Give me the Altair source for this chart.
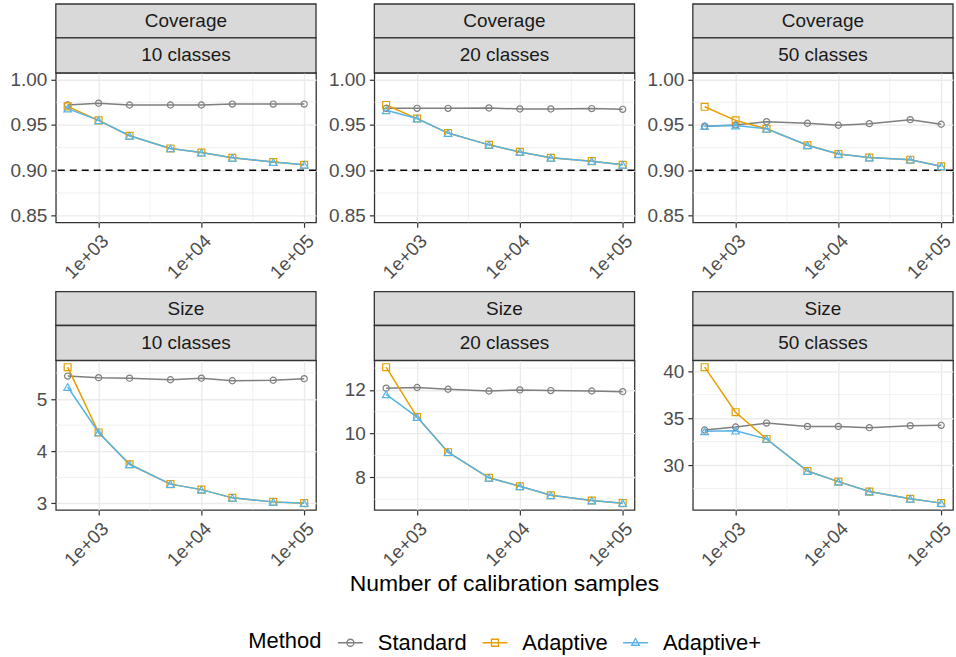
import math

import altair as alt
import pandas as pd

# ---------------------------------------------------------------------------
# Data
# ---------------------------------------------------------------------------
N_SAMPLES = [500, 1000, 2000, 5000, 10000, 20000, 50000, 100000]
METHODS = ["Standard", "Adaptive", "Adaptive+"]
METHOD_COLORS = ["#7F7F7F", "#E69F00", "#56B4E9"]
METHOD_SHAPES = ["circle", "square", "triangle-up"]
METHOD_SIZES = [38, 48, 58]
X_TITLE = "Number of calibration samples"
TARGET_COVERAGE = [0.9]

# Coverage
COV10_STANDARD = [0.972, 0.974, 0.972, 0.972, 0.972, 0.973, 0.973, 0.973]
COV10_ADAPTIVE = [0.9705, 0.955, 0.938, 0.924, 0.9195, 0.9137, 0.909, 0.906]
COV10_ADAPTIVE_PLUS = [0.968, 0.955, 0.938, 0.924, 0.9195, 0.9137, 0.909, 0.906]

COV20_STANDARD = [0.9683, 0.9683, 0.9683, 0.9687, 0.9676, 0.9676, 0.968, 0.9672]
COV20_ADAPTIVE = [0.972, 0.957, 0.941, 0.928, 0.9202, 0.9137, 0.910, 0.906]
COV20_ADAPTIVE_PLUS = [0.9661, 0.957, 0.941, 0.928, 0.9202, 0.9137, 0.910, 0.906]

COV50_STANDARD = [0.9486, 0.950, 0.9536, 0.9518, 0.9496, 0.9514, 0.9558, 0.9507]
COV50_ADAPTIVE = [0.970, 0.955, 0.9457, 0.9275, 0.9178, 0.914, 0.9116, 0.9043]
COV50_ADAPTIVE_PLUS = [0.9486, 0.9493, 0.9457, 0.9275, 0.9178, 0.914, 0.9116, 0.9043]

# Size
SIZE10_STANDARD = [5.44, 5.41, 5.40, 5.37, 5.40, 5.35, 5.36, 5.39]
SIZE10_ADAPTIVE = [5.61, 4.36, 3.75, 3.37, 3.265, 3.107, 3.03, 3.006]
SIZE10_ADAPTIVE_PLUS = [5.23, 4.36, 3.75, 3.37, 3.265, 3.107, 3.03, 3.006]

SIZE20_STANDARD = [12.08, 12.11, 12.03, 11.95, 12.00, 11.97, 11.95, 11.92]
SIZE20_ADAPTIVE = [13.04, 10.76, 9.15, 7.98, 7.59, 7.18, 6.94, 6.82]
SIZE20_ADAPTIVE_PLUS = [11.80, 10.76, 9.15, 7.98, 7.59, 7.18, 6.94, 6.82]

SIZE50_STANDARD = [33.73, 34.05, 34.47, 34.12, 34.12, 33.98, 34.19, 34.23]
SIZE50_ADAPTIVE = [40.42, 35.63, 32.78, 29.37, 28.24, 27.18, 26.41, 25.95]
SIZE50_ADAPTIVE_PLUS = [33.59, 33.66, 32.78, 29.37, 28.24, 27.18, 26.41, 25.95]

# Axis breaks
X_MAJOR = [1000, 10000, 100000]
X_MINOR = [3162.28, 31622.78]
COV_LIMITS = [0.85, 1.00]
COV_MAJOR = [0.85, 0.90, 0.95, 1.00]
COV_MINOR = [0.875, 0.925, 0.975]
SIZE10_MAJOR = [3, 4, 5]
SIZE10_MINOR = [3.5, 4.5, 5.5]
SIZE20_MAJOR = [8, 10, 12]
SIZE20_MINOR = [7, 9, 11, 13]
SIZE50_MAJOR = [30, 35, 40]
SIZE50_MINOR = [27.5, 32.5, 37.5]

# ---------------------------------------------------------------------------
# Styling
# ---------------------------------------------------------------------------
FONT = "Liberation Sans"
W, H = 261, 150
STRIP_H1, STRIP_H2 = 34, 35
BORDER = "#333333"
STRIP_FILL = "#D9D9D9"
GRID = "#EBEBEB"


def expand(lo, hi, frac=0.05):
    pad = (hi - lo) * frac
    return [lo - pad, hi + pad]


lx_lo, lx_hi = expand(math.log10(min(N_SAMPLES)), math.log10(max(N_SAMPLES)))
X_DOMAIN = [10 ** lx_lo, 10 ** lx_hi]

panels = [
    ("Coverage", "10 classes", [COV10_STANDARD, COV10_ADAPTIVE, COV10_ADAPTIVE_PLUS],
     COV_MAJOR, COV_MINOR, ".2f", expand(*COV_LIMITS)),
    ("Coverage", "20 classes", [COV20_STANDARD, COV20_ADAPTIVE, COV20_ADAPTIVE_PLUS],
     COV_MAJOR, COV_MINOR, ".2f", expand(*COV_LIMITS)),
    ("Coverage", "50 classes", [COV50_STANDARD, COV50_ADAPTIVE, COV50_ADAPTIVE_PLUS],
     COV_MAJOR, COV_MINOR, ".2f", expand(*COV_LIMITS)),
    ("Size", "10 classes", [SIZE10_STANDARD, SIZE10_ADAPTIVE, SIZE10_ADAPTIVE_PLUS],
     SIZE10_MAJOR, SIZE10_MINOR, "d", None),
    ("Size", "20 classes", [SIZE20_STANDARD, SIZE20_ADAPTIVE, SIZE20_ADAPTIVE_PLUS],
     SIZE20_MAJOR, SIZE20_MINOR, "d", None),
    ("Size", "50 classes", [SIZE50_STANDARD, SIZE50_ADAPTIVE, SIZE50_ADAPTIVE_PLUS],
     SIZE50_MAJOR, SIZE50_MINOR, "d", None),
]

# Legend glyph: a line segment with the method's open marker on it
P_CIRCLE = "M-1,0L1,0M0.28,0A0.28,0.28 0 1,1 -0.28,0A0.28,0.28 0 1,1 0.28,0"
P_SQUARE = "M-1,0L1,0M-0.28,-0.28L0.28,-0.28L0.28,0.28L-0.28,0.28Z"
P_TRIANGLE = "M-1,0L1,0M0,-0.34L0.31,0.2L-0.31,0.2Z"
GLYPH_EXPR = (
    f"datum.value === 'Standard' ? '{P_CIRCLE}' : "
    f"(datum.value === 'Adaptive' ? '{P_SQUARE}' : '{P_TRIANGLE}')"
)

# legendX / legendY are measured from the top-left corner of the first panel
LEGEND = alt.Legend(
    title="Method",
    orient="none",
    legendX=193,
    legendY=558,
    direction="horizontal",
    titleOrient="left",
    titleAnchor="middle",
    titleBaseline="middle",
    titleFontSize=22,
    titleFontWeight="normal",
    titleColor="black",
    titleFont=FONT,
    titlePadding=15,
    labelFont=FONT,
    labelFontSize=22,
    labelColor="black",
    labelOffset=14,
    columnPadding=12,
    symbolSize=625,
    symbolStrokeWidth=1.3,
    symbolFillColor="transparent",
    symbolType=alt.ExprRef(expr=GLYPH_EXPR),
)

COLOR_SCALE = alt.Scale(domain=METHODS, range=METHOD_COLORS)


def make_panel(metric, classes, series, y_major, y_minor, fmt, y_domain, show_xtitle):
    rows = []
    for method, values in zip(METHODS, series):
        for n, v in zip(N_SAMPLES, values):
            rows.append({"n": n, "method": method, "value": v})
    df = pd.DataFrame(rows)
    if y_domain is None:
        y_domain = expand(df["value"].min(), df["value"].max())

    xscale = alt.Scale(type="log", domain=X_DOMAIN, nice=False)
    yscale = alt.Scale(domain=y_domain, nice=False, zero=False)
    x_axis = alt.Axis(
        values=X_MAJOR,
        labelExpr="'1e+0' + round(log(datum.value) / LN10)",
        labelAngle=-45,
        labelAlign="right",
        labelBaseline="top",
        title=None,
    )
    y_axis = alt.Axis(values=y_major, format=fmt, title=None)

    def X(field):
        return alt.X(field, type="quantitative", scale=xscale, axis=x_axis)

    def Y(field):
        return alt.Y(field, type="quantitative", scale=yscale, axis=y_axis)

    color = alt.Color("method:N", scale=COLOR_SCALE, legend=LEGEND)

    minor_x = alt.Chart(pd.DataFrame({"gx": X_MINOR})).mark_rule(
        color=GRID, strokeWidth=0.7
    ).encode(x=X("gx"))
    minor_y = alt.Chart(pd.DataFrame({"gy": y_minor})).mark_rule(
        color=GRID, strokeWidth=0.7
    ).encode(y=Y("gy"))

    layers = [minor_x, minor_y]
    if metric == "Coverage":
        layers.append(
            alt.Chart(pd.DataFrame({"target": TARGET_COVERAGE})).mark_rule(
                color="black", strokeWidth=1.4, strokeDash=[7, 5]
            ).encode(y=Y("target"))
        )

    base = alt.Chart(df)
    # all lines first, then the open markers on top
    for m in METHODS:
        layers.append(
            base.transform_filter(alt.datum.method == m)
            .mark_line(strokeWidth=1.5)
            .encode(x=X("n"), y=Y("value"), color=color)
        )
    for m, shape, size in zip(METHODS, METHOD_SHAPES, METHOD_SIZES):
        layers.append(
            base.transform_filter(alt.datum.method == m)
            .mark_point(shape=shape, size=size, filled=False, strokeWidth=1.2, opacity=1)
            .encode(x=X("n"), y=Y("value"), color=color)
        )

    # Two stacked strip headers above the panel
    top = -(STRIP_H1 + STRIP_H2)
    mid = -STRIP_H2
    for label, y0, y1 in [(metric, top, mid), (classes, mid, 0)]:
        strip_data = alt.Data(values=[{"label": label}])
        layers.append(
            alt.Chart(strip_data).mark_rect(
                fill=STRIP_FILL, stroke=BORDER, strokeWidth=1.3
            ).encode(x=alt.value(0), x2=alt.value(W), y=alt.value(y0), y2=alt.value(y1))
        )
        layers.append(
            alt.Chart(strip_data).mark_text(
                font=FONT, fontSize=19, color="#1A1A1A", baseline="middle", align="center"
            ).encode(x=alt.value(W / 2), y=alt.value((y0 + y1) / 2), text="label:N")
        )

    # Shared x-axis title, centred under the middle panel of the bottom row
    if show_xtitle:
        layers.append(
            alt.Chart(alt.Data(values=[{"label": X_TITLE}])).mark_text(
                font=FONT, fontSize=23, color="black", baseline="middle", align="center"
            ).encode(x=alt.value(W / 2), y=alt.value(H + 74), text="label:N")
        )

    return alt.layer(*layers).properties(width=W, height=H)


charts = [
    make_panel(*p, show_xtitle=(i == 4)) for i, p in enumerate(panels)
]

# "flush" bounds: the grid is laid out from the panel sizes alone, so the
# spacing below carries the room for strips, tick labels and axis labels.
chart = (
    alt.concat(*charts, columns=3, bounds="flush", spacing={"row": 138.5, "column": 58.5})
    .properties(padding={"left": 9, "top": 1, "right": 0, "bottom": 0})
    .configure(font=FONT)
    .configure_view(stroke=BORDER, strokeWidth=1.3)
    .configure_axis(
        labelFont=FONT,
        labelFontSize=19,
        labelColor="#4D4D4D",
        labelPadding=4,
        tickColor=BORDER,
        tickSize=5,
        tickWidth=1.2,
        domain=False,
        grid=True,
        gridColor=GRID,
        gridWidth=1.4,
    )
)

chart.save("out.html", embed_options={"renderer": "svg", "actions": False})
